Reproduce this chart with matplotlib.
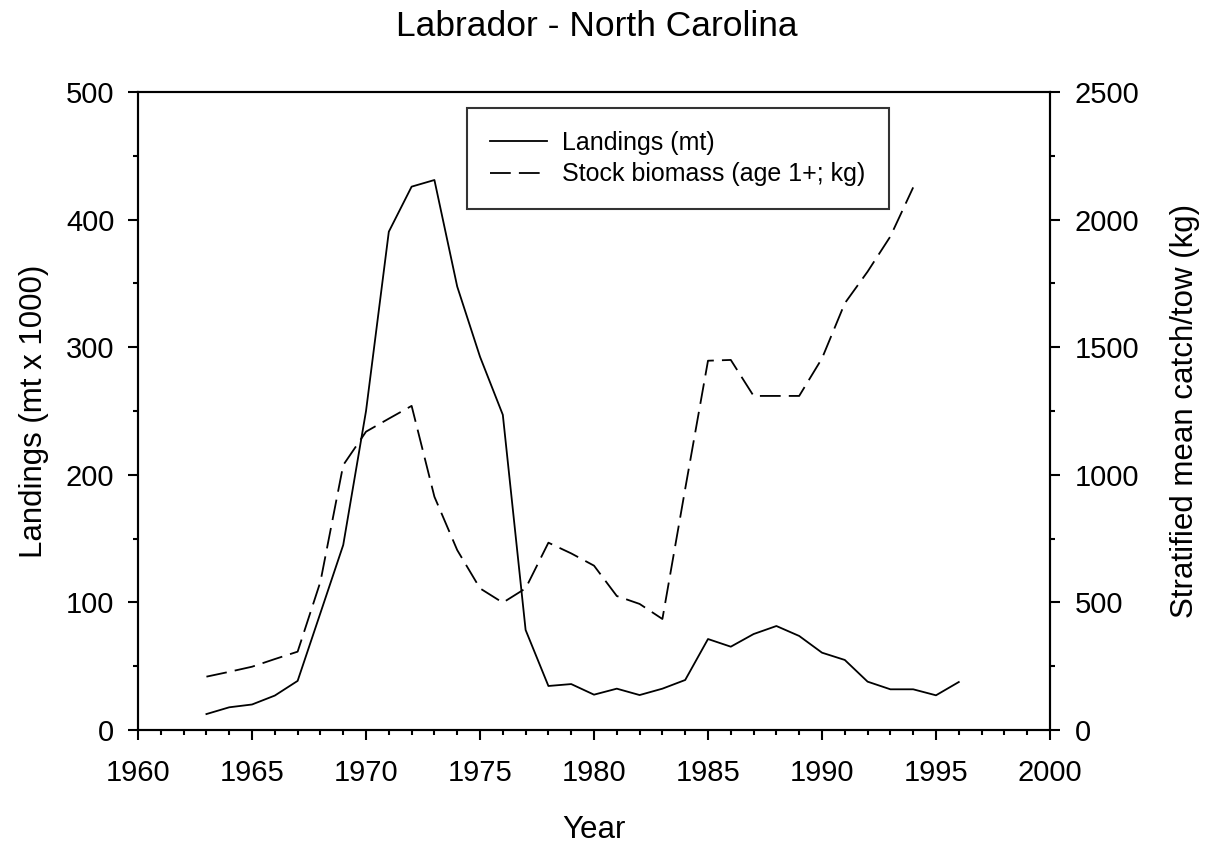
import matplotlib
matplotlib.use("Agg")
from matplotlib import pyplot as plt
from matplotlib.ticker import MultipleLocator

plt.rcParams['font.family'] = ['Liberation Sans', 'DejaVu Sans']

# landings (mt x 1000), 1963-1996
years = list(range(1963, 1997))
landings = [12.5, 17.8, 20, 27, 38.5, 91.7, 145, 250, 390.5, 425.8, 431, 347.5,
            292.5, 247, 78.4, 34.5, 36, 27.7, 32.4, 27.4, 32.4, 39.2, 71.3, 65.3,
            75.2, 81.5, 73.7, 60.6, 54.9, 37.9, 31.9, 31.9, 27.2, 37.6]

# stock biomass (kg per tow), 1963-1994
bio_years = list(range(1963, 1995))
biomass = [209, 228, 248, 278, 307, 581, 1038, 1169, 1220, 1270, 914, 705,
           555, 499, 555, 734, 692, 644, 525, 494, 435, 945, 1447, 1450,
           1309, 1309, 1309, 1456, 1672, 1796, 1934, 2126]

fig = plt.figure(figsize=(12.13, 8.46), dpi=100)
ax = fig.add_axes([0.1138, 0.1371, 0.7518, 0.7542])
ax2 = ax.twinx()

l1, = ax.plot(years, landings, color='black', lw=1.3, label='Landings (mt)')
l2, = ax2.plot(bio_years, biomass, color='black', lw=1.3,
               dashes=(11.5, 4.5), label='Stock biomass (age 1+; kg)')

ax.set_xlim(1960, 2000)
ax.set_ylim(0, 500)
ax2.set_ylim(0, 2500)

ax.xaxis.set_major_locator(MultipleLocator(5))
ax.xaxis.set_minor_locator(MultipleLocator(1))
ax.yaxis.set_major_locator(MultipleLocator(100))
ax.yaxis.set_minor_locator(MultipleLocator(50))
ax2.yaxis.set_major_locator(MultipleLocator(500))
ax2.yaxis.set_minor_locator(MultipleLocator(250))

for a in (ax, ax2):
    for s in a.spines.values():
        s.set_linewidth(1.5)
    a.tick_params(which='major', direction='out', length=7, width=1.5, labelsize=21)
    a.tick_params(which='minor', direction='out', length=3.6, width=1.5)

ax.tick_params(axis='x', which='major', pad=14)
ax.tick_params(axis='y', which='major', pad=10)
ax2.tick_params(axis='y', which='major', pad=11)

ax.set_xlabel('Year', fontsize=22.5, labelpad=20)
ax.set_ylabel('Landings (mt x 1000)', fontsize=22.5, labelpad=12)
ax2.set_ylabel('Stratified mean catch/tow (kg)', fontsize=22.5, labelpad=22)

fig.suptitle('Labrador - North Carolina', fontsize=25.5, x=0.492, y=0.988, va='top')

leg = ax.legend([l1, l2], ['Landings (mt)', 'Stock biomass (age 1+; kg)'],
                loc='upper left', bbox_to_anchor=(0.3607, 0.975), borderaxespad=0,
                fontsize=18, frameon=True, fancybox=False, handlelength=2.3,
                borderpad=0.92, labelspacing=0.3, handletextpad=0.6)
leg.get_frame().set_edgecolor('black')
leg.get_frame().set_linewidth(1.5)

fig.savefig('out.png', dpi=100)
